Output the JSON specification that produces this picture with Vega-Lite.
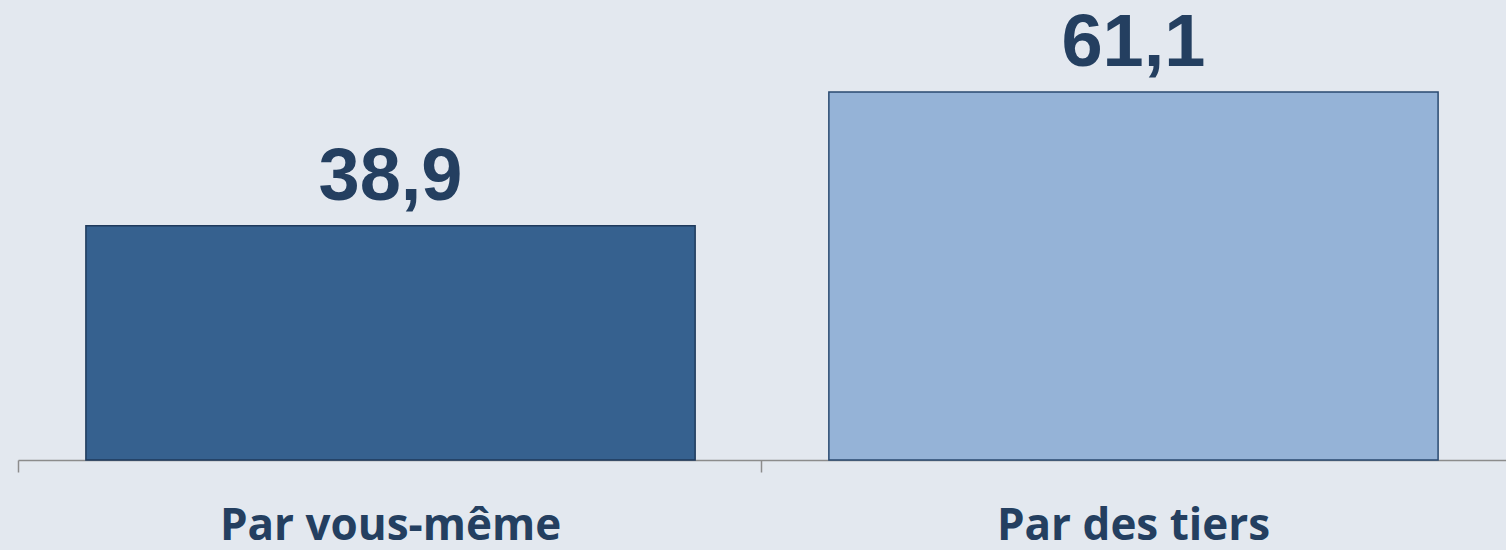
{
  "$schema": "https://vega.github.io/schema/vega-lite/v6.json",
  "width": 1488,
  "height": 460,
  "padding": {"left": 18, "top": 0, "right": 0, "bottom": 90},
  "autosize": {"type": "none"},
  "background": "#e3e8ef",
  "config": {"view": {"stroke": null}},
  "data": {"values": [
    {"cat": "Par vous-même", "val": 38.9, "label": "38,9"},
    {"cat": "Par des tiers", "val": 61.1, "label": "61,1"}
  ]},
  "encoding": {
    "x": {"field": "cat", "type": "nominal", "sort": null,
      "scale": {"paddingInner": 0.18, "paddingOuter": 0.0914},
      "axis": {"title": null, "labelAngle": 0, "labelFont": "Open Sans", "labelFontWeight": "bold", "labelFontSize": 44, "labelLimit": 0, "labelColor": "#243f60", "labelPadding": 32, "tickSize": 12, "tickColor": "#8c8c8c", "domainColor": "#8c8c8c", "domainWidth": 1.5, "tickWidth": 1.5, "bandPosition": -0.111, "labelBaseline": "top"}},
    "y": {"field": "val", "type": "quantitative", "scale": {"domain": [0, 76.4]}, "axis": null}
  },
  "layer": [
    {"mark": {"type": "bar", "strokeWidth": 1.5},
     "encoding": {
       "color": {"field": "cat", "type": "nominal", "scale": {"domain": ["Par vous-même", "Par des tiers"], "range": ["#36618f", "#95b3d7"]}, "legend": null},
       "stroke": {"field": "cat", "type": "nominal", "scale": {"domain": ["Par vous-même", "Par des tiers"], "range": ["#1f3a5c", "#2a4a70"]}, "legend": null}
     }},
    {"mark": {"type": "text", "font": "Liberation Sans", "fontWeight": "bold", "fontSize": 74, "color": "#243f60", "baseline": "alphabetic", "dy": -26},
     "encoding": {"text": {"field": "label"}}}
  ]
}
